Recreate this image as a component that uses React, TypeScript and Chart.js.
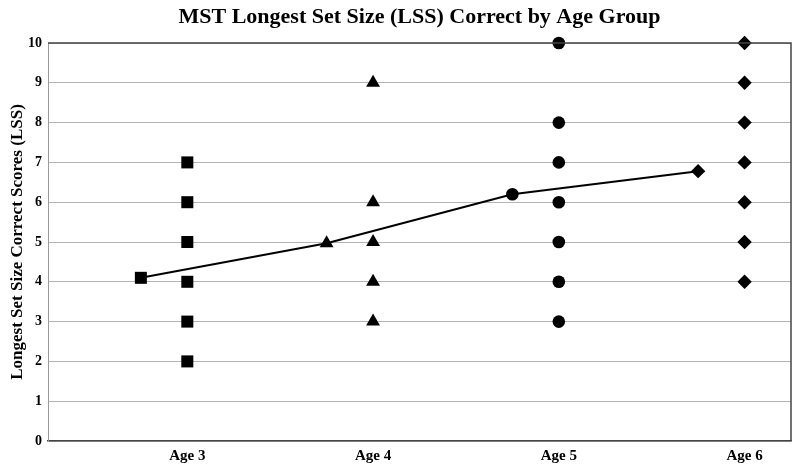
import React, { useEffect, useRef } from "react";
import { Chart, registerables } from "chart.js";

Chart.register(...registerables);

const chartTitle = "MST Longest Set Size (LSS) Correct by Age Group";
const yAxisTitle = "Longest Set Size Correct Scores (LSS)";
const categories = ["Age 3", "Age 4", "Age 5", "Age 6"];
const age3Scores = [2, 3, 4, 5, 6, 7];
const age4Scores = [3, 4, 5, 6, 9];
const age5Scores = [3, 4, 5, 6, 7, 8, 10];
const age6Scores = [4, 5, 6, 7, 8, 9, 10];
const groupMeans = [4.1, 4.97, 6.2, 6.78];
const yTicks = [0, 1, 2, 3, 4, 5, 6, 7, 8, 9, 10];

const groupScores = [age3Scores, age4Scores, age5Scores, age6Scores];
const markerStyles = ["rect", "triangle", "circle", "rectRot"];
const markerRadius = [8.5, 8, 6.3, 7.2];

const SERIF = "'Liberation Serif', 'Times New Roman', serif";

const frameBorder = {
  id: "frameBorder",
  afterDatasetsDraw(chart: any) {
    const { ctx, chartArea } = chart;
    ctx.save();
    ctx.strokeStyle = "#444";
    ctx.lineWidth = 1.5;
    ctx.beginPath();
    ctx.moveTo(chartArea.left, chartArea.top);
    ctx.lineTo(chartArea.right, chartArea.top);
    ctx.lineTo(chartArea.right, chartArea.bottom);
    ctx.stroke();
    ctx.restore();
  },
};

export default function App() {
  const ref = useRef<HTMLCanvasElement | null>(null);

  useEffect(() => {
    if (!ref.current) return;
    const scatterSets = groupScores.map((scores, i) => ({
      label: categories[i],
      type: "scatter" as const,
      data: scores.map((v) => ({ x: i + 1, y: v })),
      pointStyle: markerStyles[i],
      pointRadius: markerRadius[i],
      pointBackgroundColor: "#000",
      pointBorderColor: "#000",
      pointBorderWidth: 0,
      showLine: false,
      clip: false,
    }));
    const meanSet = {
      label: "Mean",
      type: "scatter" as const,
      data: groupMeans.map((m, i) => ({ x: i + 1 - 0.25, y: m })),
      showLine: true,
      borderColor: "#000",
      borderWidth: 2,
      pointStyle: markerStyles,
      pointRadius: markerRadius,
      pointBackgroundColor: "#000",
      pointBorderColor: "#000",
      pointBorderWidth: 0,
      clip: false,
    };
    const chart = new Chart(ref.current, {
      type: "scatter",
      data: { datasets: [meanSet as any, ...scatterSets] },
      plugins: [frameBorder],
      options: {
        animation: false,
        responsive: false,
        events: [],
        layout: { padding: { left: 0, right: 9, top: 0, bottom: 0 } },
        plugins: {
          legend: { display: false },
          tooltip: { enabled: false },
          title: {
            display: true,
            fullSize: false,
            text: chartTitle,
            color: "#000",
            font: { family: SERIF, size: 22, weight: "bold" },
            padding: { top: 4, bottom: 12.6 },
          },
        },
        scales: {
          x: {
            type: "linear",
            min: 0.25,
            max: 4.25,
            afterBuildTicks: (scale: any) => {
              scale.ticks = categories.map((_, i) => ({ value: i + 1 }));
            },
            afterFit: (scale: any) => {
              scale.height = 31;
            },
            ticks: {
              autoSkip: false,
              maxRotation: 0,
              padding: 6,
              color: "#000",
              font: { family: SERIF, size: 15, weight: "bold" },
              callback: (v: any) => categories[Math.round(Number(v)) - 1] ?? "",
            },
            grid: { display: false, drawTicks: false },
            border: { display: true, color: "#444", width: 1.5 },
          },
          y: {
            type: "linear",
            min: 0,
            max: 10,
            afterBuildTicks: (scale: any) => {
              scale.ticks = yTicks.map((v) => ({ value: v }));
            },
            afterFit: (scale: any) => {
              scale.width = 48;
            },
            ticks: {
              padding: 6,
              color: "#000",
              font: { family: SERIF, size: 14, weight: "bold" },
            },
            grid: { color: "#b4b4b4", lineWidth: 1, drawTicks: false },
            border: { display: true, color: "#999", width: 1 },
            title: {
              display: true,
              text: yAxisTitle,
              color: "#000",
              font: { family: SERIF, size: 17, weight: "bold" },
              padding: { top: 7, bottom: 4 },
            },
          },
        },
      },
    });
    return () => chart.destroy();
  }, []);

  return (
    <div style={{ position: "fixed", left: 0, top: 0, width: 800, height: 472, background: "#fff" }}>
      <canvas ref={ref} width={800} height={472} style={{ display: "block" }} />
    </div>
  );
}
